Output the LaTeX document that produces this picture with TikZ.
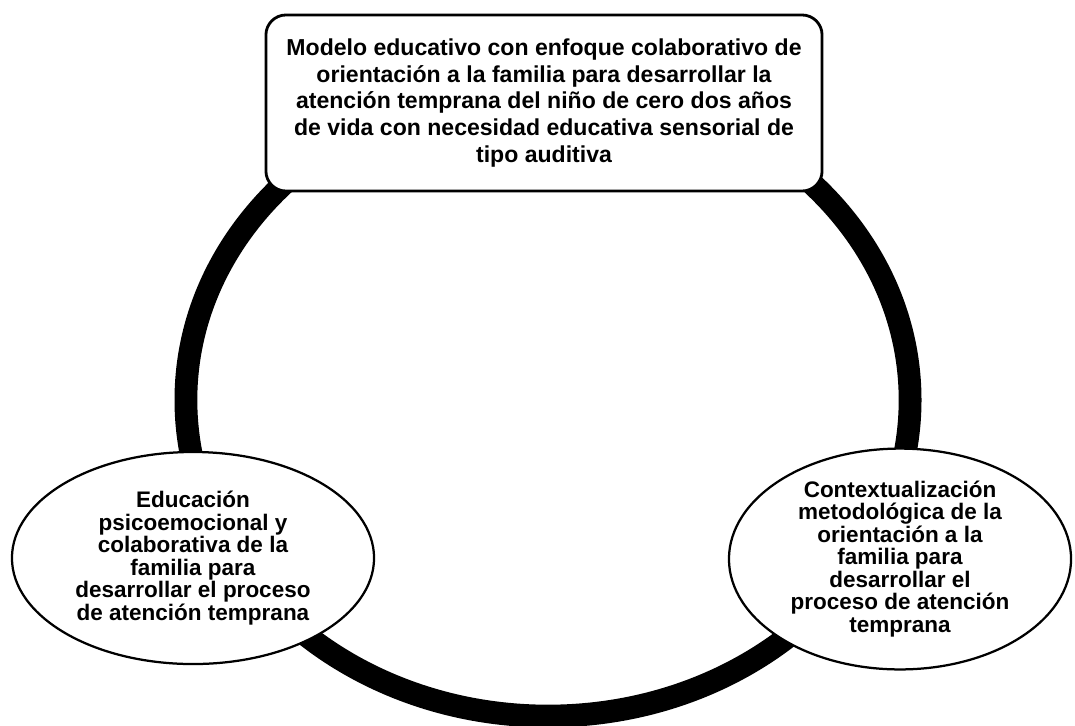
\documentclass[tikz,border=0pt]{standalone}
\usepackage{fontspec}
\setmainfont{Liberation Sans}
\usetikzlibrary{shapes.geometric}

\tikzset{
    titlebox/.style={draw, line width=2pt, rounded corners=0.5cm, fill=white, align=center,
        minimum width=13.9cm, minimum height=4.4cm, inner sep=0pt,
        font=\bfseries\fontsize{16.4}{19}\selectfont},
    partbubble/.style={draw, ellipse, line width=1.6pt, fill=white, align=center, inner sep=0pt,
        minimum height=5.3cm, font=\bfseries\fontsize{16}{16}\selectfont}
}

\begin{document}
\begin{tikzpicture}[x=0.025cm, y=-0.025cm]
        \useasboundingbox (0,0) rectangle (1075,725);
        % Ring
        \draw[line width=0.57cm] (548,400) ellipse [x radius=9.05cm, y radius=7.9cm];

        % Top box
        \node[titlebox] (modelo) at (544,103) {Modelo educativo con enfoque colaborativo de\\
            orientación a la familia para desarrollar la\\
            atención temprana del niño de cero dos años\\
            de vida con necesidad educativa sensorial de\\
            tipo auditiva};

        % Lower bubbles
        \node[partbubble, minimum width=9.05cm] (educacion) at (193,558) {Educación\\
            psicoemocional y\\
            colaborativa de la\\
            familia para\\
            desarrollar el proceso\\
            de atención temprana};
        \node[partbubble, minimum width=8.55cm] (contexto) at (900,559) {Contextualización\\
            metodológica de la\\
            orientación a la\\
            familia para\\
            desarrollar el\\
            proceso de atención\\
            temprana};
    \end{tikzpicture}
\end{document}
